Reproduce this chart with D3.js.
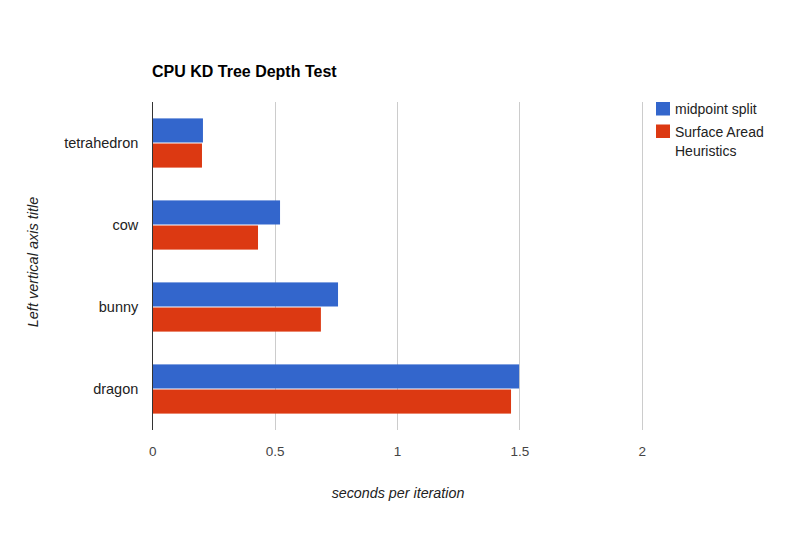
<!DOCTYPE html>
<html><head><meta charset="utf-8">
<script src="https://cdn.jsdelivr.net/npm/d3@7"></script>
<style>body{margin:0;background:#fff;} text{font-family:Arial,"Liberation Sans",sans-serif;}</style>
</head><body>
<svg id="c" width="793" height="533"></svg>
<script>
const categories = ["tetrahedron","cow","bunny","dragon"];
const seriesNames = ["midpoint split","Surface Aread Heuristics"];
const midpoint = [0.207, 0.522, 0.759, 1.499];
const sah = [0.203, 0.432, 0.689, 1.466];
const xTicks = [0, 0.5, 1, 1.5, 2];
const colors = ["#3366cc","#dc3912"];

const svg = d3.select("#c");
const m = {l:152.3, r:641.7, t:102, b:430};
const x = d3.scaleLinear().domain([0,2]).range([m.l, m.r]);
const y = d3.scaleBand().domain(categories).range([m.t, m.b]).paddingInner(0.4).paddingOuter(0.2);
const ys = d3.scaleBand().domain([0,1]).range([0, y.bandwidth()]).paddingInner(0.04);

// gridlines
svg.append("g").selectAll("line").data(xTicks.slice(1)).join("line")
  .attr("x1", d=>Math.round(x(d))+0.5).attr("x2", d=>Math.round(x(d))+0.5)
  .attr("y1", m.t).attr("y2", m.b).attr("stroke","#cccccc");

// bars
const series = [midpoint, sah];
series.forEach((vals, si) => {
  svg.append("g").selectAll("rect").data(categories).join("rect")
    .attr("x", x(0)).attr("y", c => y(c) + ys(si))
    .attr("width", (c,i) => x(vals[i]) - x(0))
    .attr("height", ys.bandwidth())
    .attr("fill", colors[si]);
});

// zero axis line
svg.append("line").attr("x1", Math.round(x(0))+0.5).attr("x2", Math.round(x(0))+0.5)
  .attr("y1", m.t).attr("y2", m.b).attr("stroke","#333333");

// x tick labels
const xa = d3.axisBottom(x).tickValues(xTicks).tickFormat(d=>String(d)).tickSize(0).tickPadding(0);
const gx = svg.append("g").attr("transform", `translate(0,${m.b})`).call(xa);
gx.select(".domain").remove();
gx.selectAll("text").attr("dy", null).attr("y", 26).attr("font-size", 13.5).attr("fill","#444444")
  .attr("font-family","Arial, 'Liberation Sans', sans-serif");

// y category labels
const ya = d3.axisLeft(y).tickSize(0).tickPadding(14);
const gy = svg.append("g").attr("transform", `translate(${m.l},0)`).call(ya);
gy.select(".domain").remove();
gy.selectAll("text").attr("font-size", 14.5).attr("fill","#222222")
  .attr("font-family","Arial, 'Liberation Sans', sans-serif");

// title
svg.append("text").attr("x", 152).attr("y", 77).attr("font-size", 16).attr("font-weight","bold")
  .attr("fill","#000").text("CPU KD Tree Depth Test");

// axis titles
svg.append("text").attr("x", 398).attr("y", 498).attr("text-anchor","middle")
  .attr("font-size", 14.3).attr("font-style","italic").attr("fill","#222").text("seconds per iteration");
svg.append("text").attr("transform", `translate(38,262) rotate(-90)`).attr("text-anchor","middle")
  .attr("font-size", 14.5).attr("font-style","italic").attr("fill","#222").text("Left vertical axis title");

// legend
const lg = svg.append("g");
const legendLines = [["midpoint split"],["Surface Aread","Heuristics"]];
const ly = [102, 124.5];
seriesNames.forEach((n, i) => {
  lg.append("rect").attr("x", 656).attr("y", ly[i]).attr("width", 14).attr("height", 13.5).attr("fill", colors[i]);
  legendLines[i].forEach((t, j) => {
    lg.append("text").attr("x", 675).attr("y", ly[i] + 12 + j*19).attr("font-size", 14).attr("fill","#222").text(t);
  });
});
</script>
</body></html>
